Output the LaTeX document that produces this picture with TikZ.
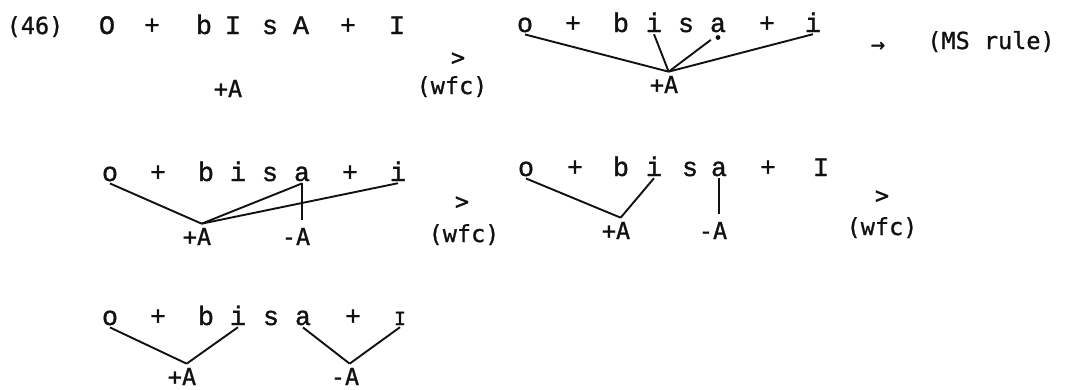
\documentclass[tikz,border=0pt]{standalone}
\usepackage{fontspec}
\usepackage{graphicx}
\usepackage{tikz}
\usetikzlibrary{calc}
\newfontfamily\formfont{Liberation Mono}[FakeBold=1.2]
\newfontfamily\notefont{DejaVu Sans Mono}[FakeBold=1]
\definecolor{ink}{HTML}{111111}
\newcommand{\scI}{\scalebox{0.75}{I}}
\tikzset{
  seg/.style={anchor=base,inner sep=2pt,font=\formfont\fontsize{26.7}{30}\selectfont,text=ink},
  ft/.style={anchor=base,inner sep=4pt,font=\notefont\fontsize{23.5}{26}\selectfont,text=ink},
  ln/.style={ink,line width=1.9pt}
}

\begin{document}
\begin{tikzpicture}[x=1pt,y=-1pt]
\useasboundingbox (0,0) rectangle (1065,389);
\node[ft] (ex) at (35,34) {(46)};
\foreach \c/\x [count=\k] in {O/107,+/152,b/204,I/233,s/270,A/301,+/348,I/397}
  \node[seg] (p\k) at (\x,34) {\c};
\node[ft] (fa) at (228,97) {+A};
\node[ft,anchor=center] (gt1) at (458,59) {>};
\node[ft] (wf1) at (452,94) {(wfc)};
\foreach \c/\x [count=\k] in {o/525,+/573,b/621,i/654,s/686,a/718,+/767,i/813}
  \node[seg] (q\k) at (\x,32) {\c};
\node[ft] (fb) at (664,93) {+A};
\foreach \s in {q1,q4,q8} \draw[ln] (\s.south) -- (fb.70);
\fill[ink] ([yshift=-3pt]q6.south) circle (2.4pt);
\draw[ln,shorten <=9pt] (q6.south) -- (fb.70);
\node[ft,anchor=center] (ar1) at (878,47) {→};
\node[ft] (ms) at (991,49) {(MS rule)};

\foreach \c/\x [count=\k] in {o/110,+/158,b/206,i/238,s/270,a/302,+/350,i/398}
  \node[seg] (r\k) at (\x,181) {\c};
\node[ft] (g1) at (197,245) {+A};
\node[ft] (h1) at (296,245) {-A};
\foreach \s in {r1,r6,r8} \draw[ln] (\s.south) -- (g1.70);
\draw[ln,shorten >=4pt] (r6.south) -- (r6.south |- h1.north);
\node[ft,anchor=center] (gt2) at (462,203) {>};
\node[ft] (wf2) at (464,242) {(wfc)};
\foreach \c/\x [count=\k] in {o/526,+/575,b/621,i/654,s/690,a/719,+/768,I/821}
  \node[seg] (t\k) at (\x,176) {\c};
\node[ft] (g2) at (616,239) {+A};
\node[ft] (h2) at (713,239) {-A};
\foreach \s in {t1,t4} \draw[ln] (\s.south) -- (g2.70);
\draw[ln,shorten >=4pt] (t6.south) -- (t6.south |- h2.north);
\node[ft,anchor=center] (gt3) at (882,197) {>};
\node[ft] (wf3) at (882,235) {(wfc)};

\foreach \c/\x [count=\k] in {o/110,+/158,b/206,i/238,s/271,a/303,+/353,{\scI}/400}
  \node[seg] (u\k) at (\x,325) {\c};
\node[ft] (g3) at (182,385) {+A};
\node[ft] (h3) at (345,385) {-A};
\foreach \s in {u1,u4} \draw[ln] (\s.south) -- (g3.70);
\foreach \s in {u6,u8} \draw[ln] (\s.south) -- (h3.70);
\end{tikzpicture}
\end{document}
